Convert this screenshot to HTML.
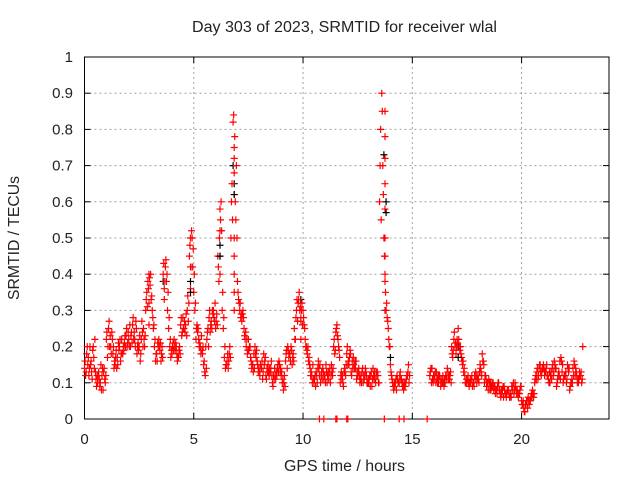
<!DOCTYPE html>
<html><head><meta charset="utf-8"><style>
body{margin:0;background:#fff}
svg text{font-family:"Liberation Sans",sans-serif;font-size:14px;fill:#222}
</style></head><body>
<svg id="c" width="640" height="480" xmlns="http://www.w3.org/2000/svg"></svg>
<script>
const xTicks=[0,5,10,15,20];
const yTicks=[0,0.1,0.2,0.3,0.4,0.5,0.6,0.7,0.8,0.9,1];
const yTickLabels=["0","0.1","0.2","0.3","0.4","0.5","0.6","0.7","0.8","0.9","1"];
const step=0.1;
const valsA=[.14,.18,.12,.16,.2,.13,.1,.09,.12,.14,
.22,.25,.2,.18,.15,.17,.2,.22,.19,.23,
.24,.2,.26,.22,.18,.2,.22,.25,.3,.38,
.37,.3,.2,.18,.22,.16,.4,.42,.3,.2,
.18,.22,.2,.17,.26,.28,.24,.3,.45,.52,
.35,.22,.25,.2,.18,.13,.22,.28,.27,.3,
.25,.45,.58,.3,.17,.15,.16,.5,.82,.6,
.38,.3,.27,.25,.2,.22,.17,.15,.2,.16,
.13,.14,.18,.12,.15,.13,.1,.14,.12,.16,
.12,.08,.16,.2,.18,.15,.25,.3,.33,.28,
.3,.22,.18,.15,.12,.1,.13,.16,.1,.14,
.12,.1,.13,.15,.2,.24,.22,.1,.12,.14,
.18,.15,.13,.17,.14,.12,.1,.13,.11,.12,
.1,.12,.14,.11,.13,.6,.9,.5,.3,.25,
.15,.1,.09,.12,.1,.11,.08,.1,.13,null,
null,null,null,null,null,null,null,null,.12,.14,
.11,.13,.1,.09,.12,.1,.14,.11,.2,.22,
.18,.25,.2,.15,.12,.1,.09,.11,.1,.13,
.12,.15,.18,.1,.09,.11,.08,.1,.07,.09,
.08,.07,.09,.06,.08,.07,.09,.1,.08,.07,
.05,.03,.04,.06,.05,.08,.1,.13,.14,.12,
.15,.13,.12,.1,.14,.16,.09,.13,.17,.1,
.12,.15,.08,.11,.16,.13,.1,.12,.2,null];
const valsB=[.12,.15,.2,.11,.14,.09,.13,.15,.08,.1,
.17,.2,.24,.14,.19,.21,.16,.18,.23,.2,
.2,.24,.22,.27,.21,.16,.24,.2,.35,.4,
.33,.25,.16,.21,.19,.2,.36,.38,.25,.17,
.21,.19,.16,.2,.23,.25,.29,.27,.5,.42,
.3,.26,.2,.23,.15,.2,.25,.24,.3,.27,
.29,.38,.6,.25,.14,.18,.2,.65,.75,.7,
.33,.28,.3,.22,.18,.2,.14,.18,.17,.13,
.15,.11,.16,.14,.12,.16,.12,.11,.15,.13,
.1,.12,.19,.17,.2,.18,.22,.27,.3,.32,
.26,.2,.16,.12,.15,.12,.1,.12,.13,.11,
.15,.13,.1,.12,.18,.26,.19,.13,.09,.12,
.15,.19,.16,.14,.11,.14,.12,.1,.14,.1,
.12,.09,.11,.13,.1,.8,.7,.4,.28,.2,
.12,.08,.11,.1,.13,.09,.1,.12,.1,null,
null,null,null,null,null,null,null,null,.14,.1,
.13,.1,.12,.11,.09,.12,.11,.13,.17,.2,
.22,.2,.17,.13,.1,.12,.11,.09,.12,.1,
.1,.13,.16,.12,.1,.08,.1,.09,.08,.1,
.06,.09,.07,.08,.06,.09,.07,.08,.06,.09,
.04,.02,.05,.04,.07,.06,.12,.11,.15,.14,
.12,.15,.1,.13,.12,.14,.11,.16,.13,.12,
.1,.13,.1,.14,.12,.1,.13,.1,null,null];
const valsC=[.16,.2,.14,.13,.17,.11,.12,.1,.14,.11,
.24,.27,.18,.2,.17,.15,.22,.18,.21,.25,
.22,.23,.28,.2,.2,.23,.27,.22,.33,.36,
.4,.28,.22,.16,.2,.18,.43,.44,.35,.22,
.2,.2,.18,.19,.28,.25,.26,.34,.48,.5,
.4,.25,.22,.18,.2,.12,.24,.3,.25,.28,
.27,.42,.55,.35,.2,.16,.18,.6,.84,.55,
.35,.32,.29,.23,.22,.19,.16,.13,.18,.15,
.12,.16,.15,.11,.13,.14,.09,.12,.14,.15,
.13,.1,.18,.19,.16,.17,.22,.33,.35,.3,
.28,.2,.2,.14,.1,.11,.12,.14,.12,.13,
.1,.12,.14,.13,.22,.25,.2,.12,.1,.13,
.2,.17,.12,.15,.16,.13,.11,.14,.12,.1,
.11,.13,.12,.1,.12,.7,.85,.45,.32,.22,
.13,.09,.1,.11,.12,.1,.09,.11,.15,null,
null,null,null,null,null,null,null,null,.13,.11,
.12,.11,.12,.1,.1,.12,.13,.12,.18,.24,
.2,.22,.18,.16,.1,.11,.1,.12,.09,.12,
.11,.14,.16,.12,.1,.1,.09,.08,.08,.1,
.07,.08,.08,.07,.07,.06,.1,.09,.07,.08,
.04,.02,.05,.05,.06,.07,.11,.14,.15,.13,
.14,.14,.11,.12,.15,.15,.1,.12,.16,.11,
.13,.14,.09,.1,.15,.12,.11,.13,null,null];
const valsD=[.13,.17,.15,.19,.22,.12,.11,.08,.13,.12,
.2,.23,.22,.16,.14,.19,.18,.2,.2,.21,
.26,.21,.24,.25,.19,.18,.2,.23,.31,.39,
.34,.26,.18,.2,.21,.17,.38,.4,.28,.19,
.19,.21,.17,.18,.24,.27,.23,.32,.42,.47,
.32,.24,.21,.19,.16,.14,.2,.26,.29,.32,
.26,.5,.52,.28,.15,.14,.17,.55,.78,.5,
.32,.29,.28,.24,.19,.2,.15,.14,.19,.14,
.14,.13,.17,.13,.14,.12,.11,.13,.13,.14,
.11,.09,.14,.18,.19,.16,.28,.32,.31,.26,
.25,.19,.17,.13,.11,.09,.14,.15,.11,.12,
.13,.11,.12,.14,.19,.23,.17,.11,.13,.15,
.16,.18,.14,.16,.13,.12,.1,.12,.13,.11,
.09,.11,.13,.12,.1,.55,.62,.35,.27,.2,
.11,.1,.08,.1,.11,.1,.09,.12,.12,null,
null,null,null,null,null,null,null,null,.1,.12,
.1,.12,.11,.1,.11,.11,.12,.1,.19,.21,
.21,.19,.16,.14,.11,.1,.1,.1,.11,.11,
.13,.12,.15,.11,.08,.1,.09,.09,.07,.08,
.08,.06,.07,.08,.06,.08,.08,.07,.07,.09,
.05,.04,.03,.05,.06,.07,.11,.12,.13,.14,
.13,.12,.13,.11,.13,.14,.12,.11,.15,.12,
.11,.14,.1,.12,.14,.11,.12,.11,null,null];
const peakT=[6.85,6.85,6.85,6.85,6.85,6.85,6.85,6.85,13.75,13.75,13.75,13.75,13.75,13.75,13.75,13.75,13.75,6.2,6.2,6.2,4.85,4.85,3.65,2.95,2.95,9.9,9.9];
const peakV=[.3,.35,.4,.45,.5,.62,.68,.72,.3,.38,.45,.5,.58,.65,.72,.78,.85,.4,.45,.52,.36,.42,.33,.26,.32,.22,.27];
const blackT=[6.2,6.8,6.85,13.7,13.8,3.6,4.85,9.9,17.1,14.0];
const blackV=[0.48,0.7,0.65,0.73,0.6,0.38,0.38,0.33,0.2,0.17];
const zeroT=[10.75,10.95,11.5,11.55,12.0,12.05,13.72,14.4,14.62,15.68];
const zeroV=[0,0,0,0,0,0,0,0,0,0];

const L=84.5,R=609,T=57,B=419;
const X=v=>L+(v/24)*(R-L);
const Y=v=>B-v*(B-T);
const svg=document.getElementById('c');
const NS='http://www.w3.org/2000/svg';
function mk(tag,attrs,parent){const e=document.createElementNS(NS,tag);for(const k in attrs)e.setAttribute(k,attrs[k]);(parent||svg).appendChild(e);return e;}
const grid=mk('g',{});


yTicks.forEach((v,i)=>{
  if(i>0&&i<yTicks.length-1)mk('line',{x1:L,x2:R,y1:Y(v),y2:Y(v),stroke:'#a0a0a0','stroke-dasharray':'2,3'},grid);
  mk('line',{x1:L,x2:L+6,y1:Y(v),y2:Y(v),stroke:'#000'},grid);
  mk('line',{x1:R-6,x2:R,y1:Y(v),y2:Y(v),stroke:'#000'},grid);
  const t=mk('text',{x:73,y:Y(v)+5,'text-anchor':'end',style:'font-size:15px'});
  
  
  t.textContent=yTickLabels[i];
});
xTicks.forEach(v=>{
  if(v>0)mk('line',{x1:X(v),x2:X(v),y1:T,y2:B,stroke:'#a0a0a0','stroke-dasharray':'2,3'},grid);
  mk('line',{x1:X(v),x2:X(v),y1:B,y2:B-6,stroke:'#000'},grid);
  mk('line',{x1:X(v),x2:X(v),y1:T,y2:T+6,stroke:'#000'},grid);
  const t=mk('text',{x:X(v),y:444,'text-anchor':'middle',style:'font-size:15px'});
  
  
  t.textContent=String(v);
});
const frame=mk('rect',{x:L,y:T,width:R-L,height:B-T,fill:'none',stroke:'#000'});


function plus(g,x,y,c){mk('path',{d:`M${x-3.5},${y}h7M${x},${y-3.5}v7`,stroke:c,'stroke-width':1.2,fill:'none'},g);}
const gb=mk('g',{});


blackT.forEach((t,i)=>plus(gb,X(t),Y(blackV[i]),'#000'));
const gr=mk('g',{});


valsA.forEach((v,i)=>{if(v!==null)plus(gr,X(i*step),Y(v),'#f00');});
valsB.forEach((v,i)=>{if(v!==null)plus(gr,X(i*step+0.05),Y(v),'#f00');});
valsC.forEach((v,i)=>{if(v!==null)plus(gr,X(i*step+0.025),Y(v),'#f00');});
valsD.forEach((v,i)=>{if(v!==null)plus(gr,X(i*step+0.075),Y(v),'#f00');});
peakT.forEach((t,i)=>plus(gr,X(t),Y(peakV[i]),'#f00'));
zeroT.forEach((t,i)=>plus(gr,X(t),Y(zeroV[i]),'#f00'));
blackT.forEach((t,i)=>{if(i%2===0)plus(gr,X(t),Y(blackV[i]-0.03),'#000');});
const title=mk('text',{x:192,y:32,textLength:305,lengthAdjust:'spacingAndGlyphs',style:'font-size:15.5px'});


title.textContent='Day 303 of 2023, SRMTID for receiver wlal';
const xl=mk('text',{x:284,y:471,textLength:121,lengthAdjust:'spacingAndGlyphs',style:'font-size:15.5px'});


xl.textContent='GPS time / hours';
const yl=mk('text',{x:-300,y:19,textLength:124,lengthAdjust:'spacingAndGlyphs',transform:'rotate(-90)',style:'font-size:15.5px'});


yl.textContent='SRMTID / TECUs';
</script>
</body></html>
